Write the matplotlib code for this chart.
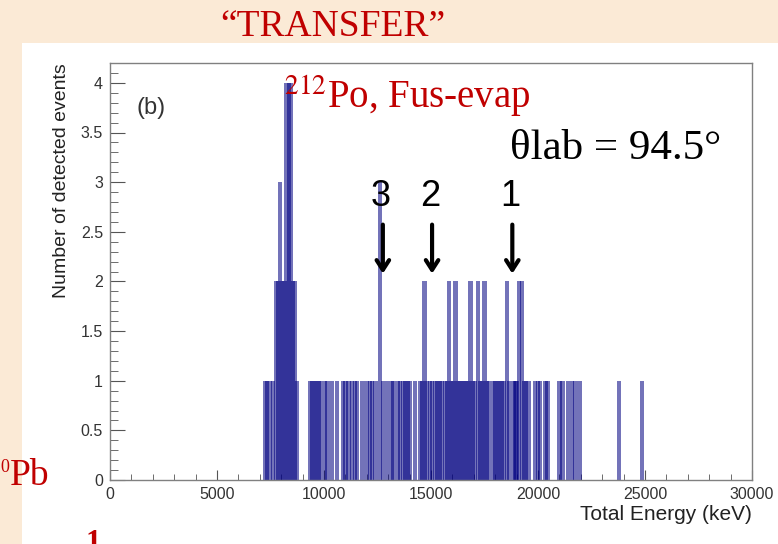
import matplotlib
matplotlib.use('Agg')  # headless
import matplotlib.pyplot as plt
from matplotlib.patches import Rectangle
from matplotlib.ticker import MultipleLocator, FuncFormatter

# -------------------------------
# Data (bin centre in keV, number of events)
# -------------------------------
bin_width_kev = 100

peak_energy = [7250, 7350, 7450, 7600, 7750, 7850, 7950, 8050, 8150,
               8250, 8350, 8450, 8550, 8650, 8750]
peak_counts = [1, 1, 1, 1, 2, 2, 3, 2, 2, 4, 4, 4, 2, 2, 1]

tail_energy = [9350, 9450, 9550, 9650, 9750, 9850, 10050, 10150, 10350, 10600,
               10900, 11000, 11150, 11300, 11450, 11550, 11800, 12000, 12150, 12250,
               12400, 12600, 12750, 12950, 13150, 13250, 13450, 13550, 13700, 13800,
               13900, 14000, 14250, 14500, 14600, 14700, 14800, 14950, 15050, 15200,
               15300, 15400, 15500, 15650, 15750, 15850, 15950, 16050, 16150, 16250,
               16350, 16450, 16550, 16650, 16750, 16850, 16950, 17050, 17200, 17300,
               17400, 17500, 17600, 17700, 17900, 18000, 18100, 18200, 18300, 18400,
               18550, 18650, 18850, 18950, 19000, 19100, 19250, 19350, 19450, 19550,
               19850, 20000, 20100, 20350, 20450, 21000, 21150, 21400, 21600, 21750,
               21950, 23800, 24850]
tail_counts = [1, 1, 1, 1, 1, 1, 1, 1, 1, 1,
               1, 1, 1, 1, 1, 1, 1, 1, 1, 1,
               1, 3, 1, 1, 1, 1, 1, 1, 1, 1,
               1, 1, 1, 1, 1, 2, 1, 1, 1, 1,
               1, 1, 1, 1, 1, 2, 1, 1, 2, 1,
               1, 1, 1, 1, 1, 2, 1, 1, 2, 1,
               1, 2, 1, 1, 1, 1, 1, 1, 1, 1,
               2, 1, 1, 1, 1, 2, 2, 1, 1, 1,
               1, 1, 1, 1, 1, 1, 1, 1, 1, 1,
               1, 1, 1]

# arrows marking the transfer states
arrow_labels = ['3', '2', '1']
arrow_energy = [12750, 15050, 18800]

# -------------------------------
# Figure / slide background
# -------------------------------
plt.rcParams['font.family'] = ['Liberation Sans', 'DejaVu Sans']
plt.rcParams['mathtext.fontset'] = 'stix'

fig = plt.figure(figsize=(7.78, 5.44), dpi=100)
fig.patch.set_facecolor('#fbead6')
fig.add_artist(Rectangle((22 / 778, 0), 1, 1 - 43 / 544, transform=fig.transFigure,
                         facecolor='white', edgecolor='none', zorder=0))

red = '#c00000'
serif = ['Liberation Serif', 'DejaVu Serif']
fig.text(333 / 778, 1 - 27 / 544, '\u201cTRANSFER\u201d', color=red, family=serif,
         fontsize=27, ha='center', va='center')
fig.text(0, 1 - 467 / 544, '0', color=red, family=serif, fontsize=13, ha='left', va='center')
fig.text(10 / 778, 1 - 476 / 544, 'Pb', color=red, family=serif, fontsize=27, ha='left', va='center')
fig.text(86 / 778, 1 - 529 / 544, '1', color=red, family=serif, fontsize=22,
         fontweight='bold', ha='left', va='top', clip_on=False)

ax = fig.add_axes([110 / 778, 1 - 480 / 544, 642 / 778, 417 / 544])
ax.set_facecolor('white')

energy = peak_energy + tail_energy
counts = peak_counts + tail_counts
ax.bar(energy, counts, width=bin_width_kev * 2.0, color='#000080', alpha=0.55,
       linewidth=0, zorder=2)

ax.set_xlim(0, 30000)
ax.set_ylim(0, 4.2)

for s in ax.spines.values():
    s.set_color('#808080')
    s.set_linewidth(1.0)

ax.xaxis.set_major_locator(MultipleLocator(5000))
ax.xaxis.set_minor_locator(MultipleLocator(1000))
ax.yaxis.set_major_locator(MultipleLocator(0.5))
ax.yaxis.set_minor_locator(MultipleLocator(0.1))
ax.yaxis.set_major_formatter(FuncFormatter(lambda v, p: f'{v:g}'))
ax.tick_params(which='both', direction='in', colors='#555555', labelcolor='#333333',
               labelsize=11.5, top=False, right=False)
ax.tick_params(axis='x', which='major', length=7, pad=5)
ax.tick_params(axis='x', which='minor', length=4)
ax.tick_params(axis='y', which='major', length=11, pad=5)
ax.tick_params(axis='y', which='minor', length=6)

ax.set_ylabel('Number of detected events', fontsize=14, color='#222222', loc='top', labelpad=8)
ax.set_xlabel('Total Energy (keV)', fontsize=15, color='#222222', loc='right', labelpad=2)

ax.text(1250, 3.75, '(b)', fontsize=17, color='#333333', va='center')
ax.text(8150, 3.74, r'$^{212}$Po, Fus-evap', color=red, family=serif, fontsize=28, va='baseline')
ax.text(18700, 3.23, '\u03b8lab = 94.5\u00b0', color='black', family=serif, fontsize=31, va='baseline')

for lab, e in zip(arrow_labels, arrow_energy):
    ax.annotate('', xy=(e, 2.05), xytext=(e, 2.6),
                arrowprops=dict(arrowstyle='->,head_length=0.7,head_width=0.45',
                                color='black', lw=3))
    ax.text(e - 100, 2.86, lab, fontsize=26, ha='center', va='center', color='black')

fig.savefig('out.png', dpi=100, facecolor=fig.get_facecolor())
